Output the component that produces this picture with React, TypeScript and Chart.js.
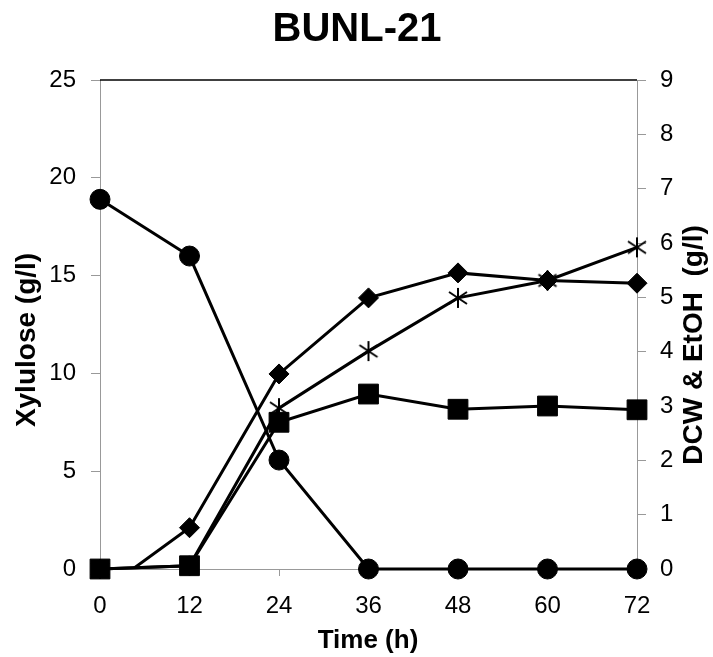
import React, { useEffect, useRef } from "react";
import { Chart, registerables } from "chart.js";

Chart.register(...registerables);

// ---- data ----
const chartTitle = "BUNL-21";
const xTitle = "Time (h)";
const yLeftTitle = "Xylulose (g/l)";
const yRightTitle = "DCW & EtOH  (g/l)";

const times = [0, 12, 24, 36, 48, 60, 72];
const xylulose = [18.9, 16.0, 5.57, 0, 0, 0, 0]; // circles, left axis
const dcw = [0, 0.06, 2.7, 3.22, 2.94, 3.0, 2.93]; // squares, right axis
const etoh = [-0.44, 0.76, 3.59, 4.99, 5.45, 5.31, 5.26]; // diamonds, right axis
const thirdSeries = [0, 0.06, 2.96, 4.01, 4.99, 5.31, 5.92]; // asterisks, right axis

const xTicks = [0, 12, 24, 36, 48, 60, 72];
const leftTicks = [0, 5, 10, 15, 20, 25];
const rightTicks = [0, 1, 2, 3, 4, 5, 6, 7, 8, 9];

const FONT = "'Liberation Sans', Arial, sans-serif";

function makeAsterisk(): HTMLCanvasElement {
  const c = document.createElement("canvas");
  c.width = 22;
  c.height = 22;
  const g = c.getContext("2d")!;
  g.strokeStyle = "#000";
  g.lineWidth = 2;
  g.lineCap = "butt";
  g.beginPath();
  g.moveTo(11, 1);
  g.lineTo(11, 21);
  g.moveTo(2, 5);
  g.lineTo(20, 17);
  g.moveTo(2, 17);
  g.lineTo(20, 5);
  g.stroke();
  return c;
}

const textPlugin = {
  id: "customTexts",
  afterDraw(chart: any) {
    const ctx = chart.ctx;
    const { left, right, top } = chart.chartArea;
    ctx.save();
    // top border
    ctx.strokeStyle = "#000";
    ctx.lineWidth = 1.5;
    ctx.beginPath();
    ctx.moveTo(left, top);
    ctx.lineTo(right, top);
    ctx.stroke();

    ctx.fillStyle = "#000";
    ctx.textAlign = "center";
    ctx.textBaseline = "middle";
    ctx.font = `bold 40px ${FONT}`;
    ctx.fillText(chartTitle, 357, 30);

    ctx.font = `bold 26px ${FONT}`;
    ctx.fillText(xTitle, 368, 641);

    ctx.font = `bold 28px ${FONT}`;
    ctx.save();
    ctx.translate(27, 340);
    ctx.rotate(-Math.PI / 2);
    ctx.fillText(yLeftTitle, 0, 0);
    ctx.restore();

    ctx.save();
    ctx.translate(694, 345);
    ctx.rotate(-Math.PI / 2);
    ctx.fillText(yRightTitle, 0, 0);
    ctx.restore();
    ctx.restore();
  },
};

export default function App() {
  const ref = useRef<HTMLCanvasElement | null>(null);
  useEffect(() => {
    if (!ref.current) return;
    const asterisk = makeAsterisk();
    const pts = (arr: number[]) => times.map((t, i) => ({ x: t, y: arr[i] }));
    const common = {
      borderColor: "#000",
      backgroundColor: "#000",
      pointBorderColor: "#000",
      pointBackgroundColor: "#000",
      borderWidth: 3,
      pointBorderWidth: 1,
      tension: 0,
    };
    const chart = new Chart(ref.current, {
      type: "line",
      data: {
        datasets: [
          {
            ...common,
            label: "Xylulose",
            data: pts(xylulose),
            yAxisID: "yL",
            pointStyle: "circle",
            pointRadius: 10,
            clip: false,
          },
          {
            ...common,
            label: "DCW",
            data: pts(dcw),
            yAxisID: "yR",
            pointStyle: "rect",
            pointRadius: 14,
            clip: false,
          },
          {
            ...common,
            label: "EtOH",
            data: pts(etoh),
            yAxisID: "yR",
            pointStyle: "rectRot",
            pointRadius: 10,
            clip: { left: 30, right: 30, top: 30, bottom: 0 },
          },
          {
            ...common,
            label: "Other",
            data: pts(thirdSeries),
            yAxisID: "yR",
            pointStyle: asterisk as any,
            pointRadius: 10,
            clip: false,
          },
        ] as any,
      },
      options: {
        animation: false,
        responsive: true,
        maintainAspectRatio: false,
        layout: { padding: { top: 80, left: 0, right: 0, bottom: 0 } },
        plugins: {
          legend: { display: false },
          title: { display: false },
          tooltip: { enabled: false },
        },
        scales: {
          x: {
            type: "linear",
            min: 0,
            max: 72,
            afterBuildTicks: (s: any) => {
              s.ticks = xTicks.map((v) => ({ value: v }));
            },
            afterFit: (s: any) => {
              s.height = 88;
            },
            border: { color: "#999", width: 1 },
            grid: { drawOnChartArea: false, drawTicks: true, tickLength: 7, color: "#999" },
            ticks: { color: "#000", font: { family: FONT, size: 24 }, padding: 16, maxRotation: 0 },
          },
          yL: {
            type: "linear",
            position: "left",
            min: 0,
            max: 25,
            afterBuildTicks: (s: any) => {
              s.ticks = leftTicks.map((v) => ({ value: v }));
            },
            afterFit: (s: any) => {
              s.width = 100;
            },
            border: { color: "#999", width: 1 },
            grid: { drawOnChartArea: false, drawTicks: true, tickLength: 9, color: "#999" },
            ticks: { color: "#000", font: { family: FONT, size: 24 }, padding: 15 },
          },
          yR: {
            type: "linear",
            position: "right",
            min: 0,
            max: 9,
            afterBuildTicks: (s: any) => {
              s.ticks = rightTicks.map((v) => ({ value: v }));
            },
            afterFit: (s: any) => {
              s.width = 76;
            },
            border: { color: "#999", width: 1 },
            grid: { drawOnChartArea: false, drawTicks: true, tickLength: 9, color: "#999" },
            ticks: { color: "#000", font: { family: FONT, size: 24 }, padding: 14 },
          },
        },
      } as any,
      plugins: [textPlugin],
    });
    return () => chart.destroy();
  }, []);

  return (
    <div style={{ position: "fixed", left: 0, top: 0, width: 713, height: 657, background: "#fff" }}>
      <canvas ref={ref} />
    </div>
  );
}
